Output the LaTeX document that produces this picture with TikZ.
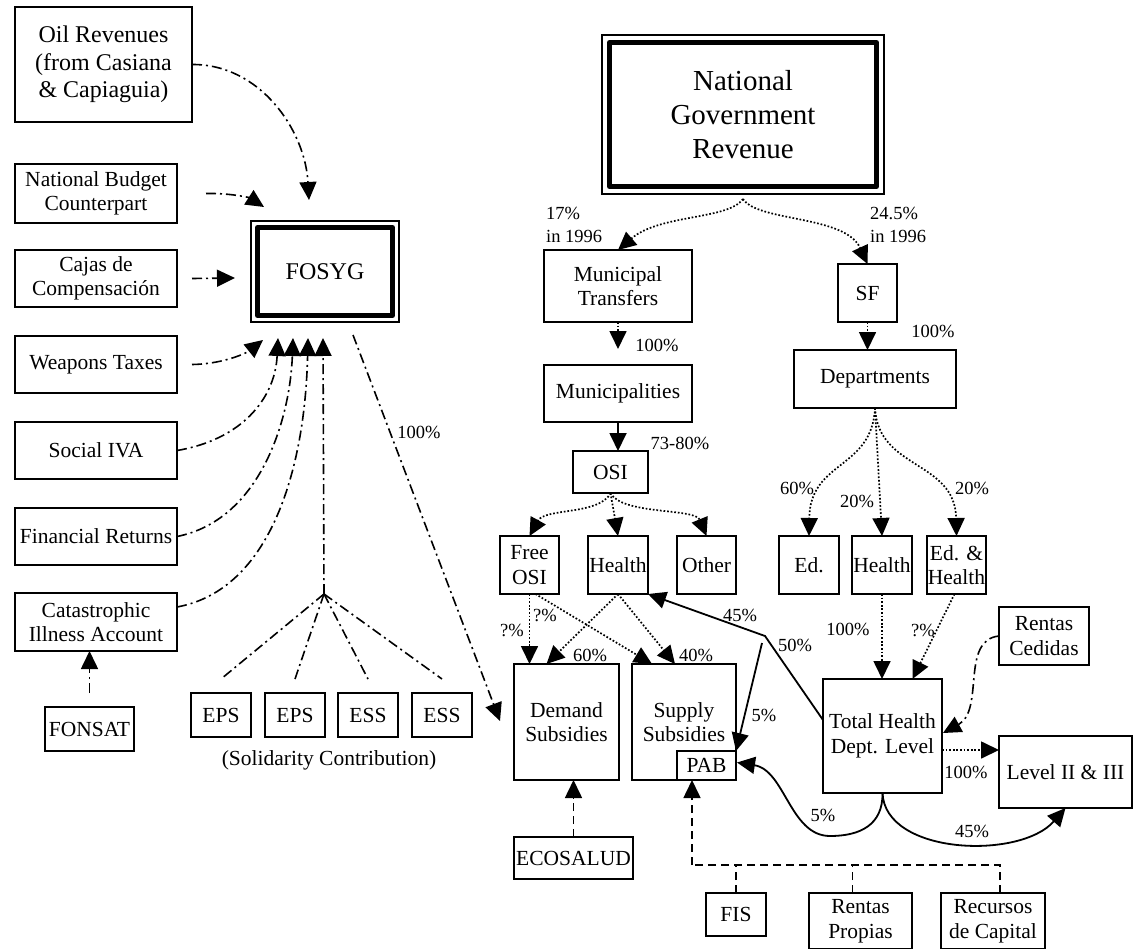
\documentclass[tikz,border=0pt]{standalone}
\usepackage{fontspec}
\setmainfont{Liberation Serif}
\usetikzlibrary{arrows.meta,calc}
\newcommand{\nodefont}{\fontsize{21.5}{24.5}\selectfont}
\newcommand{\bigfont}{\fontsize{24}{27.5}\selectfont}
\newcommand{\hugefont}{\fontsize{29}{34}\selectfont}
\newcommand{\labfont}{\fontsize{18.5}{23}\selectfont}
\tikzset{
  box/.style={draw, line width=1.8pt, inner sep=0pt, outer sep=0pt, align=center, font=\nodefont},
  lbl/.style={inner sep=0pt, font=\labfont},
  tip/.style={-{Triangle[length=18pt,width=17pt]}},
  dotl/.style={line width=1.7pt, dash pattern=on 1.7pt off 1.9pt},
  dashdot/.style={line width=1.6pt, dash pattern=on 10pt off 4pt on 2pt off 4pt},
  dashl/.style={line width=1.6pt, dash pattern=on 8pt off 5pt},
  solidl/.style={line width=1.8pt},
}
\begin{document}
\begin{tikzpicture}[x=1pt,y=-1pt]
\useasboundingbox (0,0) rectangle (1139,949);

% ---------- left column ----------
\node[box, font=\bigfont, minimum width=177pt, minimum height=115pt] (oil) at (103.5,64.5) {Oil Revenues\\(from Casiana\\\& Capiaguia)};
\node[box, minimum width=162pt, minimum height=59pt] (nbc) at (96,193.5) {National Budget\\Counterpart};
\node[box, minimum width=162pt, minimum height=57pt] (cajas) at (96,278.5) {Cajas de\\Compensación};
\node[box, minimum width=162pt, minimum height=57pt] (weapons) at (96,364.5) {Weapons Taxes};
\node[box, minimum width=162pt, minimum height=57pt] (social) at (96,450.5) {Social IVA};
\node[box, minimum width=162pt, minimum height=57pt] (financial) at (96,536.5) {Financial Returns};
\node[box, minimum width=162pt, minimum height=58pt] (cat) at (96,622) {Catastrophic\\Illness Account};
\node[box, minimum width=89pt, minimum height=44pt] (fonsat) at (89.5,729) {FONSAT};

\node[box, minimum width=60pt, minimum height=44pt] (eps1) at (221,715) {EPS};
\node[box, minimum width=60pt, minimum height=44pt] (eps2) at (295,715) {EPS};
\node[box, minimum width=60pt, minimum height=44pt] (ess1) at (368,715) {ESS};
\node[box, minimum width=60pt, minimum height=44pt] (ess2) at (442,715) {ESS};
\node[inner sep=0pt, font=\nodefont] (solid) at (329,760) {(Solidarity Contribution)};

% FOSYG
\node[box, line width=1.5pt, font=\bigfont, minimum width=148pt, minimum height=101pt] (fosyg) at (325,271.5) {FOSYG};
\draw[line width=5pt, line join=round] ($(fosyg.north west)+(6.5,6.5)$) rectangle ($(fosyg.south east)+(-6.5,-6.5)$);

% ---------- right part ----------
\node[box, line width=1.5pt, font=\hugefont, minimum width=282pt, minimum height=159pt] (ngr) at (743,114.5) {National\\Government\\Revenue};
\draw[line width=5pt, line join=round] ($(ngr.north west)+(7.5,7.5)$) rectangle ($(ngr.south east)+(-7.5,-7.5)$);

\node[box, minimum width=148pt, minimum height=72pt] (muntr) at (618,286) {Municipal\\Transfers};
\node[box, minimum width=59pt, minimum height=58pt] (sf) at (867.5,293) {SF};
\node[box, minimum width=148pt, minimum height=57pt] (munic) at (618,393.5) {Municipalities};
\node[box, minimum width=75pt, minimum height=42pt] (osi) at (610.5,472) {OSI};
\node[box, minimum width=59pt, minimum height=58pt] (freeosi) at (529.5,565) {Free\\OSI};
\node[box, minimum width=60pt, minimum height=58pt] (mhealth) at (618,565) {Health};
\node[box, minimum width=59pt, minimum height=58pt] (other) at (706.5,565) {Other};
\node[box, minimum width=162pt, minimum height=58pt] (depts) at (875,379) {Departments};
\node[box, minimum width=60pt, minimum height=58pt] (ed) at (809,565) {Ed.};
\node[box, minimum width=60pt, minimum height=58pt] (dhealth) at (882,565) {Health};
\node[box, minimum width=59pt, minimum height=58pt] (edh) at (956.5,565) {Ed. \&\\Health};
\node[box, minimum width=105pt, minimum height=116pt] (demand) at (566.5,722) {Demand\\Subsidies};
\node[box, minimum width=104pt, minimum height=116pt] (supply) at (684,722) {Supply\\Subsidies};
\node[box, minimum width=59pt, minimum height=29pt] (pab) at (706.5,765.5) {PAB};
\node[box, minimum width=119pt, minimum height=114pt] (total) at (882.5,736) {Total Health\\Dept. Level};
\node[box, minimum width=90pt, minimum height=58pt] (rentasced) at (1044,636) {Rentas\\Cedidas};
\node[box, minimum width=133pt, minimum height=72pt] (level) at (1065.5,772) {Level II \& III};
\node[box, minimum width=119pt, minimum height=42pt] (ecosalud) at (573.5,858) {ECOSALUD};
\node[box, minimum width=60pt, minimum height=43pt] (fis) at (736,914.5) {FIS};
\node[box, minimum width=103pt, minimum height=56pt] (rentasprop) at (860.5,921) {Rentas\\Propias};
\node[box, minimum width=104pt, minimum height=56pt] (recursos) at (993,921) {Recursos\\de Capital};

% ---------- connectors: FOSYG inputs ----------
\coordinate (oilT) at (309,200);
\coordinate (nbcT) at (264,207);
\coordinate (cajasT) at (235,278);
\coordinate (weapT) at (263,340);
\coordinate (a1) at (278,338);
\coordinate (a2) at (293,338);
\coordinate (a3) at (308,338);
\coordinate (a4) at (323,338);
\coordinate (jn) at (324,594);

\draw[dashdot,tip] (oil.east) .. controls (260,64) and (305,130) .. (oilT);
\draw[dashdot,tip] ($(nbc.east)+(29,0)$) .. controls (232,193) and (250,198) .. (nbcT);
\draw[dashdot,tip] ($(cajas.east)+(15,0)$) -- (cajasT);
\draw[dashdot,tip] ($(weapons.east)+(15,0)$) .. controls (225,364) and (248,352) .. (weapT);
\draw[dashdot,tip] (social.east) .. controls (240,440) and (275,400) .. (a1);
\draw[dashdot,tip] (financial.east) .. controls (260,520) and (290,420) .. (a2);
\draw[dashdot,tip] ($(cat.east)+(0,-15)$) .. controls (270,590) and (305,470) .. (a3);
\draw[dashdot,tip] (jn) -- (a4);
\draw[dashdot] (jn) -- ($(eps1.north)+(0,-14)$);
\draw[dashdot] (jn) -- ($(eps2.north)+(0,-14)$);
\draw[dashdot] (jn) -- ($(ess1.north)+(0,-14)$);
\draw[dashdot] (jn) -- ($(ess2.north)+(0,-14)$);
\draw[dashdot,tip] ($(fonsat.north)+(0,-14)$) -- (cat.south -| fonsat.north);
\draw[dashdot,tip] ($(fosyg.south east)+(-46,13)$) -- ($(demand.west)+(-14,-1)$);
\node[lbl] (l100a) at (419,432) {100\%};

% ---------- National Government Revenue ----------
\draw[dotl,tip] ($(ngr.south)+(0,5)$) .. controls (728,220) and (660,214) .. (muntr.north);
\draw[dotl,tip] ($(ngr.south)+(0,5)$) .. controls (758,222) and (845,215) .. (sf.north);
\node[lbl, align=left, anchor=west] (l17) at (546,225) {17\%\\in 1996};
\node[lbl, align=left, anchor=west] (l245) at (870,225) {24.5\%\\in 1996};

\draw[dotl,tip] (muntr.south) -- ($(munic.north)+(0,-16)$);
\node[lbl] (l100b) at (657,345) {100\%};
\draw[dotl,tip] (sf.south) -- (sf.south |- depts.north);
\node[lbl] (l100c) at (933,331) {100\%};

\draw[solidl,tip] (munic.south) -- (munic.south |- osi.north);
\node[lbl] (l7380) at (680,443) {73-80\%};

\draw[dotl,tip] (osi.south) .. controls (600,515) and (545,508) .. (freeosi.north);
\draw[dotl,tip] (osi.south) -- (mhealth.north);
\draw[dotl,tip] (osi.south) .. controls (622,515) and (695,508) .. (other.north);

\draw[dotl,tip] (depts.south) .. controls (872,470) and (810,460) .. (ed.north);
\draw[dotl,tip] (depts.south) -- (dhealth.north);
\draw[dotl,tip] (depts.south) .. controls (878,470) and (955,460) .. (edh.north);
\node[lbl] (l60a) at (797,488) {60\%};
\node[lbl] (l20a) at (857,501) {20\%};
\node[lbl] (l20b) at (972,488) {20\%};

% municipal health / free OSI to subsidies
\draw[dotl,tip] (freeosi.south) -- (freeosi.south |- demand.north);
\draw[dotl,tip] ($(freeosi.south)+(6,0)$) -- ($(supply.north)+(-32,0)$);
\draw[dotl,tip] (mhealth.south) -- ($(demand.north)+(-20,0)$);
\draw[dotl,tip] (mhealth.south) -- ($(supply.north)+(-9,0)$);
\node[lbl] (lq1) at (545,615) {?\%};
\node[lbl] (lq2) at (512,630) {?\%};
\node[lbl] (l60b) at (590,655) {60\%};
\node[lbl] (l40) at (696,655) {40\%};

% departmental health
\draw[dotl,tip] (dhealth.south) -- (dhealth.south |- total.north);
\draw[dotl,tip] ($(edh.south)+(-2,0)$) -- ($(total.north)+(30,0)$);
\node[lbl] (l100d) at (848,629) {100\%};
\node[lbl] (lq3) at (923,630) {?\%};
\draw[dashdot,tip] (rentasced.west) .. controls (960,640) and (985,710) .. ($(total.east)+(1,-3)$);
\draw[dotl,tip] ($(total.east)+(0,14)$) -- ($(level.west)+(0,-22)$);
\node[lbl] (l100e) at (966,772) {100\%};

% solid flows from Total Health
\coordinate (bend) at (765,636);
\coordinate (s5) at (762,643);
\draw[solidl,tip] ($(total.west)+(0,-16)$) -- (bend) -- (mhealth.south east);
\draw[solidl,tip] (s5) -- (pab.north east);
\node[lbl] (l45a) at (740,615) {45\%};
\node[lbl] (l50) at (795,645) {50\%};
\node[lbl] (l5a) at (764,715) {5\%};
\draw[solidl,tip] (total.south) .. controls (885,855) and (1020,860) .. (level.south);
\draw[solidl,tip] (total.south) .. controls (883,825) and (860,836) .. (830,836) .. controls (790,836) and (785,770) .. ($(pab.east)+(1,-3)$);
\node[lbl] (l5b) at (823,815) {5\%};
\node[lbl] (l45b) at (972,831) {45\%};

% dashed sources
\draw[dashl,tip] (ecosalud.north) -- (ecosalud.north |- demand.south);
\coordinate (pabc) at (692,865);
\draw[dashl] ($(recursos.north)+(7,0)$) |- (pabc);
\draw[dashl,tip] (pabc) -- (pabc |- pab.south);
\draw[dashl] (fis.north) -- (fis.north |- pabc);
\draw[dashl] ($(rentasprop.north)+(-8,0)$) -- ++(0,-28);
\end{tikzpicture}
\end{document}
